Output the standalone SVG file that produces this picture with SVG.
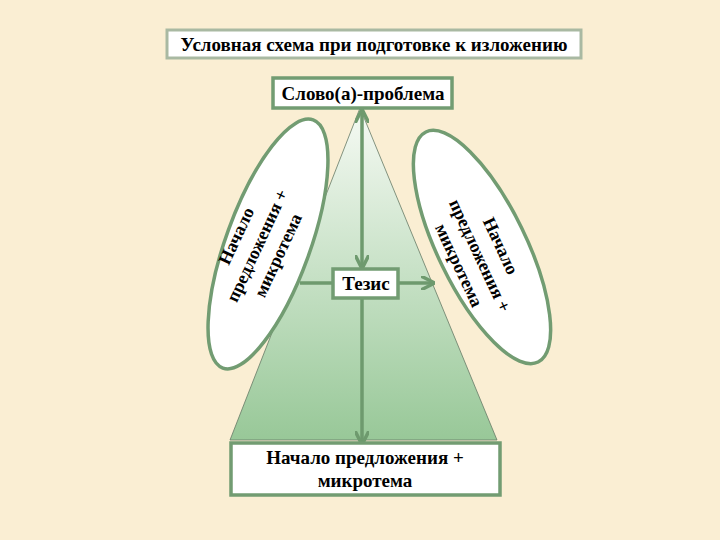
<svg xmlns="http://www.w3.org/2000/svg" width="720" height="540" viewBox="0 0 720 540">
<style>
.box{fill:#fff;stroke:#729C72;stroke-width:3.5}
.t{font-family:"Liberation Serif",serif;font-weight:bold;fill:#000;text-anchor:middle}
.conn{stroke:#6E9A6E;stroke-width:3.5;fill:none}
</style>
<defs>
<linearGradient id="tg" x1="0" y1="0" x2="0" y2="1">
<stop offset="0" stop-color="#F6FAF4"/>
<stop offset="1" stop-color="#98C898"/>
</linearGradient>
<marker id="ah" viewBox="0 0 10 10" refX="8" refY="5" markerWidth="4" markerHeight="4" orient="auto-start-reverse">
<path d="M0,0 L10,5 L0,10" fill="none" stroke="#6E9A6E" stroke-width="2.5"/>
</marker>
</defs>
<rect width="720" height="540" fill="#FAEED3"/>
<g id="title">
<rect x="167" y="30" width="414" height="28" fill="#fff" stroke="#A9B9A2" stroke-width="3"/>
<text class="t" x="374" y="51" font-size="19">Условная схема при подготовке к изложению</text>
</g>
<g id="triangle">
<polygon points="360,108 230,440 497,440" fill="url(#tg)" stroke="#667a66" stroke-width="0.8"/>
</g>
<g id="left-ellipse">
<ellipse cx="268" cy="244" rx="42" ry="132" transform="rotate(20 268 244)" class="box"/>
<g transform="translate(258,246) rotate(-65)" class="t" font-size="18">
<text x="0" y="-18">Начало</text>
<text x="0" y="5">предложения +</text>
<text x="0" y="28">микротема</text>
</g>
</g>
<g id="right-ellipse">
<ellipse cx="482" cy="247" rx="44" ry="128" transform="rotate(-26 482 247)" class="box"/>
<g transform="translate(479,256) rotate(65)" class="t" font-size="18">
<text x="0" y="-18">Начало</text>
<text x="0" y="5">предложения +</text>
<text x="0" y="28">микротема</text>
</g>
</g>
<g id="connectors">
<line x1="362" y1="112" x2="362" y2="266" class="conn" marker-start="url(#ah)" marker-end="url(#ah)"/>
<line x1="362" y1="298" x2="362" y2="442" class="conn" marker-end="url(#ah)"/>
<line x1="333" y1="283" x2="300" y2="283" class="conn"/>
<line x1="398" y1="283" x2="432" y2="283" class="conn" marker-end="url(#ah)"/>
</g>
<g id="problem">
<rect x="273" y="78" width="179" height="30" class="box"/>
<text class="t" x="363" y="100" font-size="19">Слово(а)-проблема</text>
</g>
<g id="thesis">
<rect x="333" y="269" width="65" height="29" class="box"/>
<text class="t" x="366" y="290" font-size="19">Тезис</text>
</g>
<g id="bottom">
<rect x="231" y="443" width="269" height="52" class="box"/>
<text class="t" x="365" y="464" font-size="19">Начало предложения +</text>
<text class="t" x="365" y="487" font-size="19">микротема</text>
</g>
</svg>
